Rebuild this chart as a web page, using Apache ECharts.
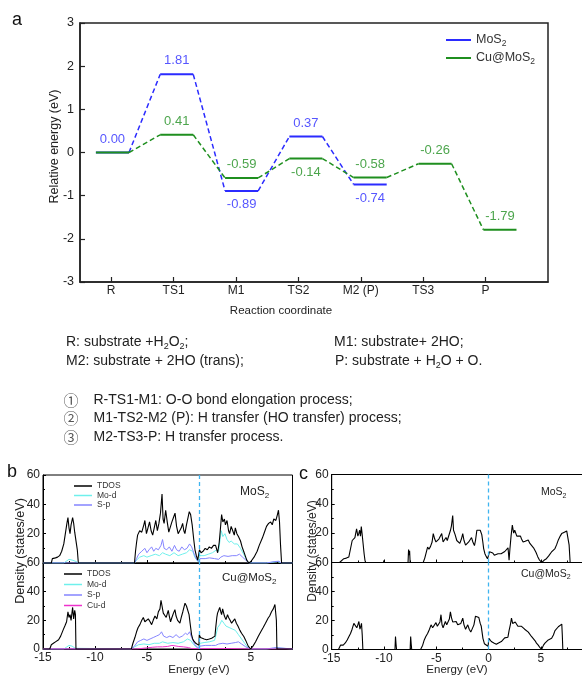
<!DOCTYPE html>
<html><head><meta charset="utf-8">
<script src="https://cdn.jsdelivr.net/npm/echarts@6.0.0/dist/echarts.min.js"></script>
<style>html,body{margin:0;padding:0;background:#fff}#c{width:582px;height:681px}</style>
</head><body><div id="c"></div><script>
// ---------------- DATA ----------------
const categories = ['R', 'TS1', 'M1', 'TS2', 'M2 (P)', 'TS3', 'P'];
const levelX = [0.02, 1.05, 2.09, 3.12, 4.15, 5.19, 6.23]; // state positions along reaction coordinate
const mos2Energy = [0.00, 1.81, -0.89, 0.37, -0.74];
const cuMos2Energy = [0.00, 0.41, -0.59, -0.14, -0.58, -0.26, -1.79];

// panel b, MoS2
const bMoS2TDOS = [[-15,0],[-14.2,0],[-14.1,3],[-13.8,3.5],[-13.6,4],[-13.4,5],[-13.2,8],[-13.0,13],[-12.85,20],[-12.7,27],[-12.6,31],[-12.5,24],[-12.4,20],[-12.3,26],[-12.15,31],[-12.05,27],[-11.95,21],[-11.8,20],[-11.7,9],[-11.6,0],
[-6.2,0],[-6.1,8],[-6.0,14],[-5.9,19],[-5.7,22],[-5.5,21],[-5.3,26],[-5.2,29],[-5.05,20],[-4.9,24],[-4.75,28],[-4.6,22],[-4.45,19],[-4.3,24],[-4.15,29],[-4.0,22],[-3.85,27],[-3.7,34],[-3.55,47],[-3.45,30],[-3.35,27],[-3.2,36],[-3.05,28],[-2.9,21],[-2.75,20],[-2.6,28],[-2.45,31],[-2.3,34],[-2.15,25],[-2.0,20],[-1.85,19],[-1.7,24],[-1.57,27],[-1.45,22],[-1.35,20],[-1.2,26],[-1.05,31],[-0.93,35],[-0.8,33],[-0.65,26],[-0.5,16],[-0.38,9],[-0.25,5],[-0.12,2],[0,1],
[0.05,9],[0.2,7],[0.4,8],[0.6,10],[0.8,9],[1.0,11],[1.2,10],[1.4,12],[1.6,12],[1.8,7],[1.95,14],[2.05,22],[2.18,33],[2.3,28],[2.45,30],[2.55,26],[2.7,29],[2.85,22],[2.95,20],[3.1,25],[3.25,22],[3.4,19],[3.5,24],[3.65,20],[3.8,18],[4.0,15],[4.15,11],[4.3,8],[4.45,5],[4.6,2],[4.8,0],[5.0,1],[5.1,2],[5.3,4],[5.6,8],[5.8,12],[6.1,17],[6.3,21],[6.5,25],[6.7,27],[6.9,28],[7.05,26],[7.2,30],[7.4,29],[7.55,33],[7.65,36],[7.75,28],[7.85,12],[7.95,0],[9,0]];
const bMoS2Mod = [[-15,0],[-13,0],[-12.7,1.5],[-12.5,2.5],[-12.2,2],[-11.8,1],[-11.6,0],[-6.2,0],[-6.0,2],[-5.7,4],[-5.3,5],[-5,4],[-4.6,5],[-4.2,6],[-3.8,5],[-3.5,7],[-3.2,6],[-2.8,5],[-2.4,7],[-2.0,5],[-1.6,6],[-1.2,7],[-0.9,9],[-0.6,8],[-0.4,4],[-0.1,1],[0,0.5],[0.1,5],[0.5,5],[0.9,6],[1.3,7],[1.7,9],[1.9,8],[2.0,14],[2.15,22],[2.3,18],[2.5,20],[2.7,16],[2.9,14],[3.1,15],[3.4,13],[3.7,13],[4.0,10],[4.3,6],[4.6,2],[4.8,0],[6.5,0],[7.0,0.5],[7.6,1],[7.9,0],[9,0]];
const bMoS2Sp = [[-15,0],[-11.6,0],[-6.2,0],[-6.0,3],[-5.8,6],[-5.5,8],[-5.2,10],[-5.0,7],[-4.8,9],[-4.55,11],[-4.35,8],[-4.15,10],[-3.9,9],[-3.65,12],[-3.5,16],[-3.35,10],[-3.1,9],[-2.85,11],[-2.6,8],[-2.35,12],[-2.15,9],[-1.9,8],[-1.65,11],[-1.4,9],[-1.15,10],[-0.9,13],[-0.7,11],[-0.45,6],[-0.2,2],[0,1],[0.1,3],[0.6,3],[1.0,3.5],[1.5,3],[1.9,2.5],[2.1,4],[2.4,5],[2.8,4.5],[3.2,5],[3.6,5],[3.9,6],[4.2,4],[4.5,2],[4.8,0],[6.5,0],[7.3,1],[7.7,1.2],[7.9,0],[9,0]];

// panel b, Cu@MoS2
const bCuTDOS = [[-15,0],[-14.35,0],[-14.2,3],[-14.0,4],[-13.8,5],[-13.5,6.5],[-13.3,9],[-13.05,13.5],[-12.9,16],[-12.73,19],[-12.6,26],[-12.5,22],[-12.4,24],[-12.3,20],[-12.15,29],[-12.05,21],[-11.95,27],[-11.88,24],[-11.83,0],
[-6.5,0],[-6.35,4],[-6.16,8],[-6.0,12],[-5.85,15],[-5.68,17],[-5.5,20],[-5.35,22],[-5.2,19],[-5.05,18],[-4.87,21],[-4.7,19],[-4.55,17],[-4.4,20],[-4.23,23],[-4.05,21],[-3.9,26],[-3.75,28],[-3.65,34],[-3.55,30],[-3.43,25],[-3.3,24],[-3.15,22],[-2.95,27],[-2.85,23],[-2.73,19],[-2.6,22],[-2.45,25],[-2.31,27.5],[-2.2,23],[-2.05,20],[-1.83,18],[-1.7,22],[-1.55,26],[-1.34,32],[-1.2,30],[-1.12,31],[-0.95,24],[-0.85,18],[-0.71,10],[-0.6,7],[-0.48,5.5],[-0.3,4],[-0.16,3],[0,2.5],
[0.03,10],[0.15,8],[0.26,7.5],[0.5,7],[0.74,6.5],[1.0,7],[1.22,7.5],[1.4,8],[1.54,9],[1.63,16],[1.72,22],[1.79,25],[1.9,27],[2.0,29],[2.1,26],[2.18,24],[2.28,28],[2.34,27],[2.45,23],[2.6,20.5],[2.75,24],[2.85,22],[3.0,20],[3.14,18],[3.3,19],[3.45,21],[3.6,18],[3.75,16],[3.94,13],[4.1,11],[4.33,8.5],[4.5,6],[4.74,2],[4.97,0],[5.2,2],[5.45,5],[5.7,8.7],[5.95,12],[6.18,15],[6.4,18],[6.66,21.6],[6.8,23],[6.98,26],[7.15,28],[7.31,31],[7.4,32],[7.45,20],[7.5,0],[9,0]];
const bCuMod = [[-15,0],[-13,0],[-12.7,1.5],[-12.5,2.5],[-12.2,2],[-11.9,0.5],[-11.83,0],[-6.5,0],[-6.2,1.5],[-5.8,3],[-5.3,3.5],[-4.8,3],[-4.3,4],[-3.8,4],[-3.5,5],[-3,4],[-2.5,4.5],[-2,4],[-1.5,5],[-1.1,7],[-0.8,6],[-0.5,3],[-0.2,1],[0,0.5],[0.1,4],[0.5,4.5],[1.0,5],[1.5,6],[1.65,10],[1.8,15],[2.0,17],[2.2,20],[2.4,18],[2.6,16],[2.9,15],[3.2,14],[3.5,13],[3.8,10],[4.1,7],[4.4,4],[4.7,1],[4.97,0],[6.5,0],[7.2,0.5],[7.45,0.8],[7.5,0],[9,0]];
const bCuSp = [[-15,0],[-11.83,0],[-6.5,0],[-6.2,2],[-5.9,5],[-5.6,6],[-5.3,7],[-5.0,6],[-4.7,7],[-4.4,8],[-4.1,9],[-3.8,10],[-3.6,12],[-3.4,9],[-3.1,8],[-2.8,9],[-2.5,8],[-2.2,10],[-1.9,8],[-1.6,9],[-1.3,11],[-1.1,10],[-0.9,12],[-0.7,8],[-0.4,3],[-0.1,1],[0,0.5],[0.1,2],[0.6,2.5],[1.2,2.5],[1.6,2.5],[1.9,3.5],[2.3,4],[2.7,3.5],[3.1,4],[3.5,4.5],[3.8,5],[4.1,3.5],[4.5,1.5],[4.97,0],[6.5,0],[7.2,0.8],[7.45,1],[7.5,0],[9,0]];
const bCuCud = [[-15,0],[-6,0],[-5,0.8],[-4.5,1.2],[-4,1.5],[-3.5,1.5],[-3,1.8],[-2.6,2.5],[-2.45,3],[-2.3,2.2],[-2,1.8],[-1.5,1.5],[-1,1],[-0.7,0.3],[0,0.2],[1,0.3],[3,0.3],[5,0],[9,0]];

// panel c
const cMoS2TDOS = [[-15,0],[-14.25,0],[-14.16,1],[-13.84,2.6],[-13.6,3],[-13.36,3.8],[-13.2,5],[-13.04,15],[-12.9,14],[-12.78,17],[-12.7,20],[-12.62,23],[-12.5,18],[-12.4,20],[-12.33,22],[-12.25,18],[-12.17,24.5],[-12.1,20],[-12.0,13],[-11.9,6],[-11.82,1.5],[-11.75,0],
[-10.05,0],[-10.0,1.5],[-9.95,0],
[-7.7,0],[-7.65,8.8],[-7.6,5],[-7.55,8],[-7.5,0],
[-6.25,0],[-6.1,3],[-5.99,6],[-5.83,10.5],[-5.7,9],[-5.55,11],[-5.4,14],[-5.29,19.7],[-5.15,16],[-5.03,14],[-4.9,15],[-4.75,16],[-4.62,15],[-4.48,19.7],[-4.35,14],[-4.2,13],[-4.07,17],[-3.95,15],[-3.8,14],[-3.65,21.8],[-3.55,25],[-3.43,32],[-3.35,22],[-3.2,19],[-3.04,15],[-2.9,14],[-2.75,13],[-2.6,16],[-2.47,19.7],[-2.35,15],[-2.2,11.8],[-2.05,12],[-1.9,14],[-1.75,13],[-1.63,17],[-1.5,14],[-1.35,11.5],[-1.25,15],[-1.12,22],[-1.0,22.5],[-0.8,22],[-0.65,19],[-0.55,14],[-0.47,9.5],[-0.35,6],[-0.22,4],[-0.1,2.5],[0,1.8],
[0.09,7.3],[0.25,6],[0.4,6.5],[0.55,5],[0.74,4.4],[0.9,6],[1.05,5.5],[1.2,6],[1.38,7],[1.55,7.5],[1.7,8.3],[1.86,10],[1.96,1.5],[2.05,10],[2.15,18],[2.27,25.5],[2.4,20],[2.5,22],[2.6,22],[2.7,18],[2.85,17],[3.05,18],[3.15,16],[3.3,14],[3.5,14.5],[3.65,15],[3.79,15.4],[3.95,13],[4.1,12],[4.3,10],[4.53,7],[4.7,4],[4.84,2],[5.07,0],[5.3,1.5],[5.53,2.6],[5.75,4.5],[6.0,7],[6.15,8],[6.35,9.5],[6.5,12],[6.67,15.4],[6.85,18],[6.99,19.7],[7.2,20.5],[7.47,21.5],[7.63,22],[7.7,12],[7.8,0],[9,0]];
const cCuTDOS = [[-15,0],[-14.35,0],[-14.3,1],[-14.16,3],[-13.9,3],[-13.7,4.5],[-13.52,6.6],[-13.35,9],[-13.2,11],[-13.05,14],[-12.88,18],[-12.72,19.3],[-12.6,15],[-12.5,17],[-12.4,19.3],[-12.3,14],[-12.22,16],[-12.15,18],[-12.08,10],[-12.02,0],
[-8.95,0],[-8.9,9],[-8.85,4],[-8.8,0],
[-7.5,0],[-7.45,9],[-7.4,4],[-7.35,0],
[-6.5,0],[-6.3,3],[-6.15,6.6],[-6.0,9],[-5.83,11],[-5.65,14],[-5.5,17],[-5.35,15],[-5.25,14],[-5.03,18.5],[-4.9,16],[-4.78,15],[-4.65,19],[-4.55,24],[-4.45,17],[-4.35,15],[-4.13,19.3],[-4.0,17],[-3.85,16],[-3.75,21],[-3.65,26],[-3.55,22],[-3.43,19],[-3.3,20],[-3.1,19.3],[-2.95,17],[-2.8,15.7],[-2.65,18],[-2.47,21.6],[-2.35,17],[-2.2,14],[-1.99,17],[-1.85,14],[-1.7,12],[-1.55,11.5],[-1.4,17],[-1.25,23],[-1.1,22.5],[-0.93,22],[-0.8,18],[-0.7,16],[-0.54,7.7],[-0.4,4],[-0.28,2.7],[-0.05,2.2],
[0.03,7.7],[0.15,6.5],[0.26,5.5],[0.5,4.5],[0.74,3.6],[0.95,4.5],[1.22,5.5],[1.4,6.5],[1.54,8],[1.7,7],[1.85,8.5],[1.96,13],[2.08,17],[2.19,21.6],[2.3,18],[2.42,17],[2.55,19],[2.66,19.3],[2.8,16],[2.98,15.7],[3.15,16],[3.3,17],[3.45,14],[3.62,13.5],[3.8,12],[3.95,11.3],[4.1,9],[4.27,7.7],[4.45,6],[4.58,4.4],[4.75,3],[4.9,1.4],[5.07,0],[5.25,3],[5.39,4.4],[5.55,5],[5.71,6.6],[5.9,7],[6.03,7.7],[6.2,10],[6.35,13],[6.5,14],[6.67,15.7],[6.85,16.5],[7.0,17.5],[7.05,10],[7.1,0],[9,0]];

// ---------------- STYLE / BUILD ----------------
const FONT = "'Liberation Sans', Arial, Helvetica, sans-serif";
const CJK = "'Noto Sans CJK SC', 'DejaVu Sans', sans-serif";
const BLUE = '#2b2bff', GREEN = '#1f8f1f';
const MOD = '#6ff0ec', SP = '#8585ff', CUD = '#ee33cc', ZERO = '#3fb4f0';
const H = 0.265;
const blueLabelPos = ['top', 'top', 'bottom', 'top', 'bottom'];
const greenLabelPos = [null, 'top', 'top', 'bottom', 'top', 'top', 'top'];

function levels(en) { const d = []; en.forEach((e, i) => { d.push([levelX[i] - H, e], [levelX[i] + H, e], ['-', '-']); }); return d; }
function connectors(en) { const d = []; for (let i = 0; i < en.length - 1; i++) d.push([levelX[i] + H, en[i]], [levelX[i + 1] - H, en[i + 1]], ['-', '-']); return d; }
function labelData(en, pos) { const d = []; en.forEach((e, i) => { if (pos[i]) d.push({ value: [levelX[i], e], label: { position: pos[i] } }); }); return d; }

const subRich = (fs) => ({ s: { fontSize: fs, lineHeight: fs, verticalAlign: 'bottom', fontFamily: FONT } });

function dosX(gi, showLabel) {
  return { type: 'value', gridIndex: gi, min: -15, max: 9, interval: 5,
    axisLine: { onZero: false, lineStyle: { color: '#000', width: 1 } },
    axisTick: { inside: true, length: 3, lineStyle: { color: '#000' } },
    minorTick: { show: true, splitNumber: 2, length: 2, lineStyle: { color: '#000' } },
    splitLine: { show: false }, minorSplitLine: { show: false },
    axisLabel: { show: showLabel, fontFamily: FONT, fontSize: 12, color: '#222', margin: 3,
      formatter: v => (v === 9 ? '' : String(v)) } };
}
function dosY(gi, hideZero) {
  return { type: 'value', gridIndex: gi, min: 0, max: 60, interval: 20,
    axisLine: { onZero: false, lineStyle: { color: '#000', width: 1 } },
    axisTick: { inside: true, length: 3, lineStyle: { color: '#000' } },
    minorTick: { show: true, splitNumber: 2, length: 2, lineStyle: { color: '#000' } },
    splitLine: { show: false },
    axisLabel: { fontFamily: FONT, fontSize: 12, color: '#222', margin: 3,
      formatter: v => (hideZero && v === 0 ? '' : String(v)) } };
}
function dosSeries(name, data, ai, color, width, zeroLine, z) {
  const s = { name, type: 'line', data, xAxisIndex: ai, yAxisIndex: ai, symbol: 'none', showSymbol: false,
    lineStyle: { color, width }, itemStyle: { color }, z: z || 2, silent: true };
  if (zeroLine) s.markLine = { silent: true, symbol: ['none', 'none'], label: { show: false },
    lineStyle: { color: ZERO, type: [4, 3], width: 1.3 }, data: [{ xAxis: 0 }] };
  return s;
}

const series = [
  { name: 'MoS2', type: 'line', data: levels(mos2Energy), xAxisIndex: 0, yAxisIndex: 0, symbol: 'none',
    lineStyle: { color: BLUE, width: 2 }, itemStyle: { color: BLUE }, z: 3 },
  { name: 'MoS2', type: 'line', data: connectors(mos2Energy), xAxisIndex: 0, yAxisIndex: 0, symbol: 'none',
    lineStyle: { color: BLUE, width: 1.5, type: [5, 3] }, itemStyle: { color: BLUE }, z: 3 },
  { name: 'Cu@MoS2', type: 'line', data: levels(cuMos2Energy), xAxisIndex: 0, yAxisIndex: 0, symbol: 'none',
    lineStyle: { color: GREEN, width: 2 }, itemStyle: { color: GREEN }, z: 4 },
  { name: 'Cu@MoS2', type: 'line', data: connectors(cuMos2Energy), xAxisIndex: 0, yAxisIndex: 0, symbol: 'none',
    lineStyle: { color: GREEN, width: 1.5, type: [5, 3] }, itemStyle: { color: GREEN }, z: 4 },
  { name: 'lblB', type: 'scatter', data: labelData(mos2Energy, blueLabelPos), xAxisIndex: 0, yAxisIndex: 0, symbolSize: 0,
    label: { show: true, distance: 7, color: BLUE, fontFamily: FONT, fontSize: 13, formatter: p => p.value[1].toFixed(2) }, z: 5 },
  { name: 'lblG', type: 'scatter', data: labelData(cuMos2Energy, greenLabelPos), xAxisIndex: 0, yAxisIndex: 0, symbolSize: 0,
    label: { show: true, distance: 7, color: GREEN, fontFamily: FONT, fontSize: 13, formatter: p => p.value[1].toFixed(2) }, z: 5 },
  // panel b top
  dosSeries('Mo-d', bMoS2Mod, 1, MOD, 1),
  dosSeries('S-p', bMoS2Sp, 1, SP, 1),
  dosSeries('TDOS', bMoS2TDOS, 1, '#000', 1.1, true, 3),
  // panel b bottom
  dosSeries('Mo-d', bCuMod, 2, MOD, 1),
  dosSeries('S-p', bCuSp, 2, SP, 1),
  dosSeries('Cu-d', bCuCud, 2, CUD, 1),
  dosSeries('TDOS', bCuTDOS, 2, '#000', 1.1, true, 3),
  // panel c
  dosSeries('TDOS c MoS2', cMoS2TDOS, 3, '#000', 1.1, true, 3),
  dosSeries('TDOS c Cu@MoS2', cCuTDOS, 4, '#000', 1.1, true, 3)
];

const gridBox = { show: true, borderColor: '#000', borderWidth: 1, backgroundColor: 'transparent', outerBoundsMode: 'none', containLabel: false };
const txt = (x, y, text, fs, extra, rot) => {
  const e = { type: 'text', x, y, silent: true,
    style: Object.assign({ text, fontFamily: FONT, fontSize: fs, fill: '#222', align: 'left', verticalAlign: 'middle' }, extra || {}) };
  if (rot) e.rotation = Math.PI / 2;
  return e;
};

const option = {
  animation: false,
  backgroundColor: '#fff',
  grid: [
    Object.assign({ left: 80, top: 23, width: 468, height: 259 }, gridBox, { borderWidth: 1.5, borderColor: '#222' }),
    Object.assign({ left: 43, top: 475, width: 249.5, height: 88 }, gridBox),
    Object.assign({ left: 43, top: 563, width: 249.5, height: 86 }, gridBox),
    Object.assign({ left: 331.7, top: 474.5, width: 251, height: 88 }, gridBox),
    Object.assign({ left: 331.7, top: 562.5, width: 251, height: 87 }, gridBox)
  ],
  xAxis: [
    { type: 'value', gridIndex: 0, min: -0.5, max: 7,
      axisLine: { onZero: false, lineStyle: { color: '#222', width: 1.5 } },
      axisTick: { inside: true, length: 5, customValues: [0, 1, 2, 3, 4, 5, 6], lineStyle: { color: '#222', width: 1.2 } },
      axisLabel: { customValues: [0, 1, 2, 3, 4, 5, 6], formatter: v => categories[Math.round(v)],
        fontFamily: FONT, fontSize: 12, color: '#222', margin: 3 },
      splitLine: { show: false } },
    dosX(1, false), dosX(2, true), dosX(3, false), dosX(4, true)
  ],
  yAxis: [
    { type: 'value', gridIndex: 0, min: -3, max: 3, interval: 1,
      axisLine: { onZero: false, lineStyle: { color: '#222', width: 1.5 } },
      axisTick: { inside: true, length: 5, lineStyle: { color: '#222', width: 1.2 } },
      axisLabel: { fontFamily: FONT, fontSize: 12.5, color: '#222', margin: 6 },
      splitLine: { show: false } },
    dosY(1, true), dosY(2, false), dosY(3, true), dosY(4, false)
  ],
  legend: [
    { data: ['MoS2', 'Cu@MoS2'], orient: 'vertical', left: 441, top: 27, icon: 'rect', itemWidth: 25, itemHeight: 2, itemGap: 2,
      selectedMode: false, formatter: n => n.replace(/2$/, '{s|2}'),
      textStyle: { fontFamily: FONT, fontSize: 12.5, color: '#333', lineHeight: 16, rich: subRich(8.5) } },
    { data: ['TDOS', 'Mo-d', 'S-p'], orient: 'vertical', left: 69, top: 476.5, icon: 'rect', itemWidth: 18, itemHeight: 1.5, itemGap: 0.5,
      selectedMode: false, textStyle: { fontFamily: FONT, fontSize: 8.5, color: '#333', lineHeight: 9 } },
    { data: ['TDOS', 'Mo-d', 'S-p', 'Cu-d'], orient: 'vertical', left: 59, top: 564.5, icon: 'rect', itemWidth: 18, itemHeight: 1.5, itemGap: 1.5,
      selectedMode: false, textStyle: { fontFamily: FONT, fontSize: 8.5, color: '#333', lineHeight: 9 } }
  ],
  graphic: { elements: [
    txt(12, 20, 'a', 18, { fill: '#111' }),
    txt(55, 146.5, 'Relative energy (eV)', 12.5, { align: 'center' }, true),
    txt(281, 311, 'Reaction coordinate', 11.5, { align: 'center' }),
    txt(66, 342, 'R: substrate +H{s|2}O{s|2};', 14, { lineHeight: 18, rich: subRich(9) }),
    txt(334, 342, 'M1: substrate+ 2HO;', 14),
    txt(66, 361.5, 'M2: substrate + 2HO (trans);', 14),
    txt(335, 361.5, 'P: substrate + H{s|2}O + O.', 14, { lineHeight: 18, rich: subRich(9) }),
    txt(63.5, 400, '\u2460', 15, { fill: '#555', fontFamily: CJK }),
    txt(93.5, 400, 'R-TS1-M1: O-O bond elongation process;', 14),
    txt(63.5, 418.5, '\u2461', 15, { fill: '#555', fontFamily: CJK }),
    txt(93.5, 418.5, 'M1-TS2-M2 (P): H transfer (HO transfer) process;', 14),
    txt(63.5, 437, '\u2462', 15, { fill: '#555', fontFamily: CJK }),
    txt(93.5, 437, 'M2-TS3-P: H transfer process.', 14),
    txt(7, 472, 'b', 18, { fill: '#111' }),
    txt(299, 474, 'c', 18, { fill: '#111' }),
    txt(21, 551, 'Density (states/eV)', 12.5, { align: 'center' }, true),
    txt(313, 551, 'Density (states/eV)', 12, { align: 'center' }, true),
    txt(199, 670, 'Energy (eV)', 11.5, { align: 'center' }),
    txt(457, 670, 'Energy (eV)', 11.5, { align: 'center' }),
    txt(240, 492, 'MoS{s|2}', 12, { lineHeight: 15, rich: subRich(8) }),
    txt(222, 578, 'Cu@MoS{s|2}', 11.5, { lineHeight: 15, rich: subRich(8) }),
    txt(541, 492.5, 'MoS{s|2}', 10.5, { lineHeight: 14, rich: subRich(7) }),
    txt(521, 574, 'Cu@MoS{s|2}', 10.5, { lineHeight: 14, rich: subRich(7) })
  ] },
  series
};

const chart = echarts.init(document.getElementById('c'), null, { renderer: 'canvas' });
chart.setOption(option);
</script></body></html>
